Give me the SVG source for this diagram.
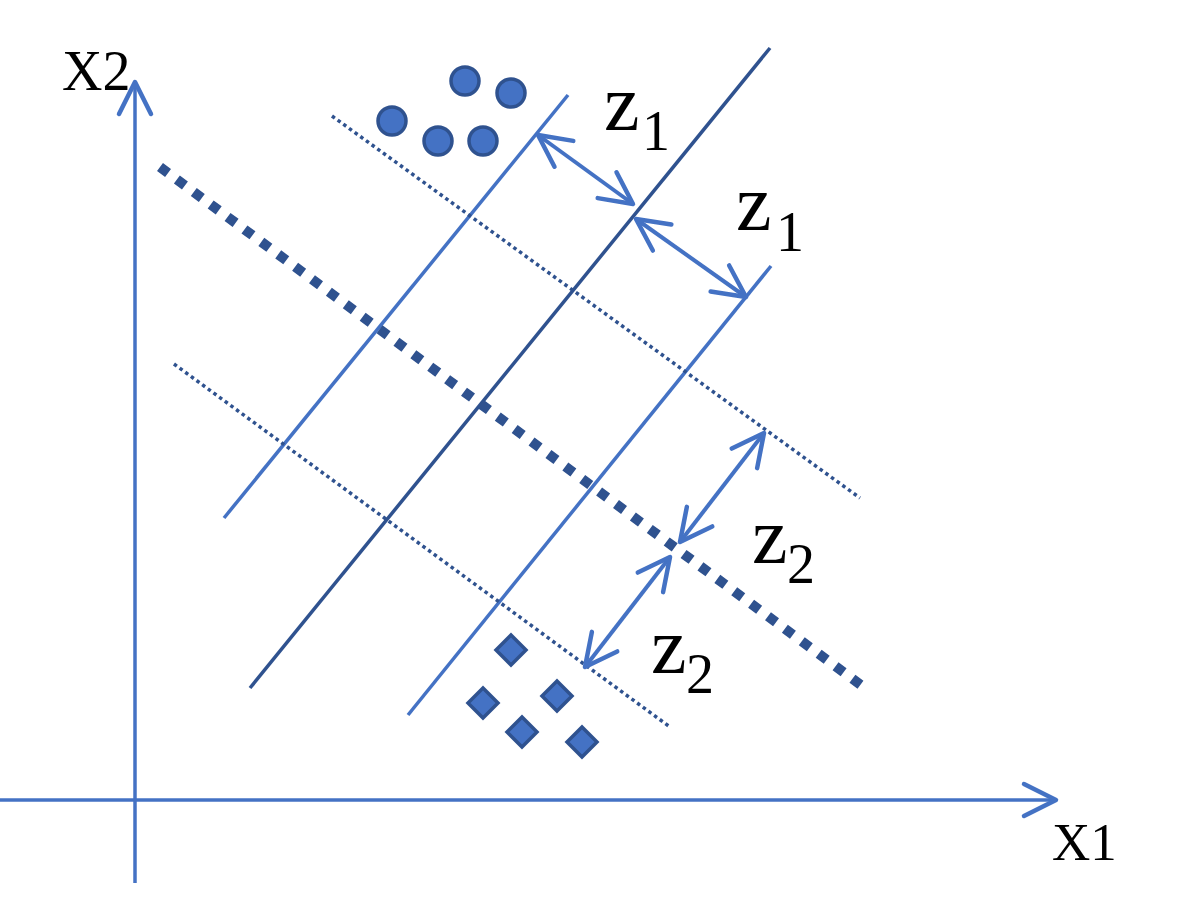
<svg xmlns="http://www.w3.org/2000/svg" width="1201" height="906" viewBox="0 0 1201 906">
<style>
.ax{stroke:#4472C4;stroke-width:3.5;fill:none}
.lt{stroke:#4472C4;stroke-width:3.5;fill:none}
.dk{stroke:#2F528F;stroke-width:3.5;fill:none}
.thick{stroke:#2F528F;stroke-width:10;stroke-dasharray:10 11;fill:none}
.thin{stroke:#2F528F;stroke-width:3.5;stroke-dasharray:3.5 3.5;fill:none}
.dbl{stroke:#4472C4;stroke-width:4;fill:none;marker-start:url(#ah);marker-end:url(#ah)}
.pt{fill:#4472C4;stroke:#2F528F;stroke-width:3.5}
</style>
<defs>
<marker id="ah" markerUnits="userSpaceOnUse" viewBox="-40 -22 44 44" markerWidth="44" markerHeight="44" refX="0" refY="0" orient="auto-start-reverse" overflow="visible">
<path d="M -32 -16 L 0 0 L -32 16" fill="none" stroke="#4472C4" stroke-width="4.5" stroke-linecap="round" stroke-linejoin="round"/>
</marker>
</defs>
<rect width="1201" height="906" fill="#fff"/>
<g id="axes">
<line class="ax" x1="135" y1="883" x2="135" y2="82" marker-end="url(#ah)"/>
<line class="ax" x1="0" y1="800" x2="1056" y2="800" marker-end="url(#ah)"/>
<text x="62" y="90" font-size="56" font-family="'Liberation Serif', 'DejaVu Serif', serif" fill="#000">X2</text>
<text x="1052" y="860" font-size="53" font-family="'Liberation Serif', 'DejaVu Serif', serif" fill="#000">X1</text>
</g>
<g id="lines">
<line class="dk" x1="250" y1="688" x2="770" y2="48"/>
<line class="lt" x1="224" y1="518" x2="568" y2="95"/>
<line class="lt" x1="408" y1="715" x2="771" y2="266"/>
<line class="thick" x1="160" y1="167" x2="865" y2="688"/>
<line class="thin" x1="332" y1="116" x2="860" y2="498"/>
<line class="thin" x1="174" y1="364" x2="670" y2="727"/>
</g>
<g id="circles">
<circle class="pt" cx="465" cy="81" r="14"/>
<circle class="pt" cx="511" cy="93" r="14"/>
<circle class="pt" cx="392" cy="121" r="14"/>
<circle class="pt" cx="438" cy="141" r="14"/>
<circle class="pt" cx="483" cy="141" r="14"/>
</g>
<g id="diamonds">
<path class="pt" d="M511 635 L526 650 L511 665 L496 650 Z"/>
<path class="pt" d="M483 688 L498 703 L483 718 L468 703 Z"/>
<path class="pt" d="M557 681 L572 696 L557 711 L542 696 Z"/>
<path class="pt" d="M522 717 L537 732 L522 747 L507 732 Z"/>
<path class="pt" d="M582 727 L597 742 L582 757 L567 742 Z"/>
</g>
<g id="connectors">
<line class="dbl" x1="538" y1="135" x2="633" y2="204"/>
<line class="dbl" x1="636" y1="219" x2="746" y2="297"/>
<line class="dbl" x1="764" y1="433" x2="680" y2="542"/>
<line class="dbl" x1="670" y1="557" x2="585" y2="667"/>
</g>
<g id="labels" font-family="'Liberation Serif', 'DejaVu Serif', serif" fill="#000">
<text x="604" y="130" font-size="80">z</text>
<text x="642" y="150" font-size="56">1</text>
<text x="736" y="230" font-size="80">z</text>
<text x="776" y="251" font-size="56">1</text>
<text x="752" y="563" font-size="80">z</text>
<text x="787" y="583" font-size="56">2</text>
<text x="651" y="673" font-size="80">z</text>
<text x="686" y="693" font-size="56">2</text>
</g>
</svg>
